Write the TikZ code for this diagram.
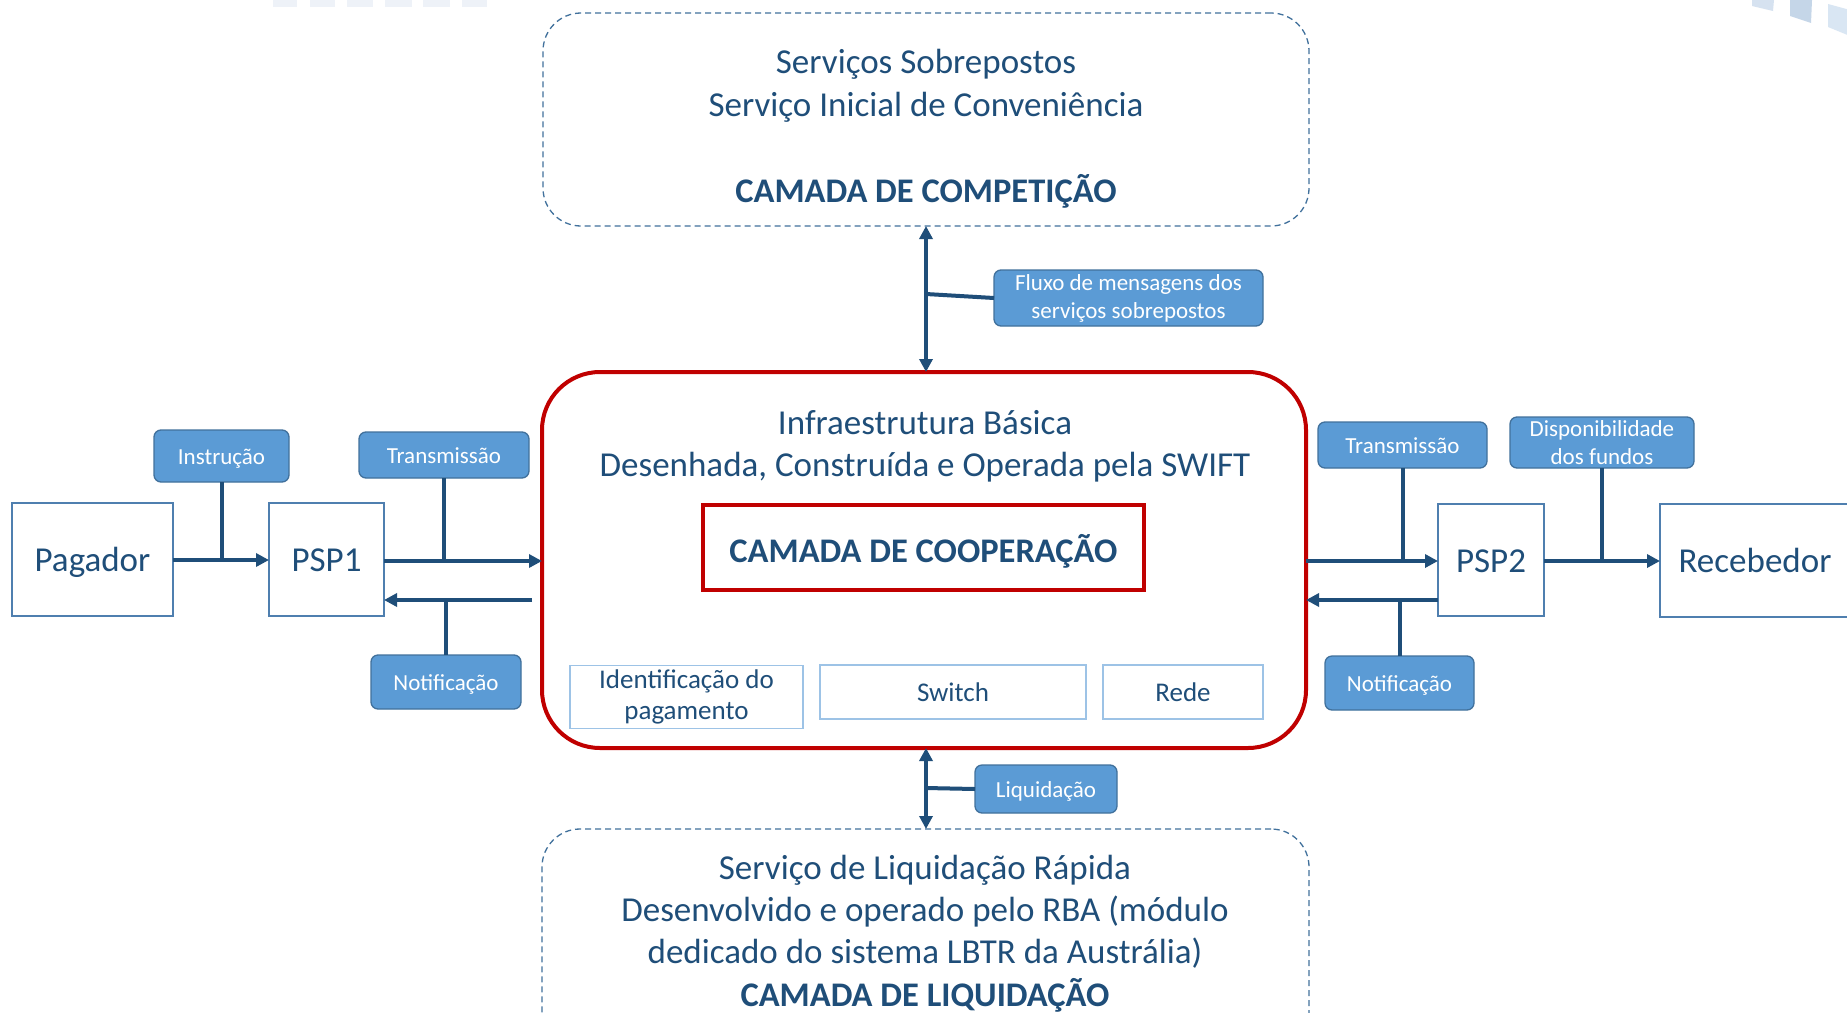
\documentclass[tikz,border=0pt]{standalone}
\usepackage{fontspec}
\setmainfont{Carlito}
\usetikzlibrary{arrows.meta}
\definecolor{navy}{HTML}{1F4E79}
\definecolor{lblfill}{HTML}{5B9BD5}
\definecolor{lblline}{HTML}{41719C}
\definecolor{redc}{HTML}{C00000}
\definecolor{lightb}{HTML}{9DC3E6}
\definecolor{boxline}{HTML}{4F7FAF}
\definecolor{decoA}{HTML}{EEF2F8}
\definecolor{decoB}{HTML}{D6E2F0}
\definecolor{decoC}{HTML}{C5D6E8}
\definecolor{decoD}{HTML}{D9E6F3}
\tikzset{
  every node/.style={inner sep=0pt, outer sep=0pt, text=navy},
  bigtxt/.style={font=\fontsize{35}{42}\selectfont, text height=24pt, text depth=7pt, yshift=-3.5pt},
  boldtxt/.style={font=\fontsize{34.5}{42}\selectfont\bfseries, text height=24pt, text depth=7pt, yshift=-3.5pt},
  layerbox/.style={draw=lblline, line width=1.3pt, dash pattern=on 6pt off 4pt, rounded corners=38pt},
  redbox/.style={draw=redc, line width=4pt, rounded corners=58pt},
  coopbox/.style={draw=redc, line width=4pt, font=\fontsize{34.5}{40}\selectfont\bfseries, text height=30pt, text depth=1pt},
  compbox/.style={draw=lightb, line width=1.5pt, font=\fontsize{27}{31}\selectfont, align=center},
  actor/.style={draw=boxline, line width=1.3pt, fill=white, font=\fontsize{35}{40}\selectfont, text height=26pt, text depth=2pt},
  lbl/.style={draw=lblline, line width=1.3pt, fill=lblfill, rounded corners=7pt, text=white, font=\fontsize{23}{28}\selectfont},
  lblone/.style={lbl, text height=17pt, text depth=1pt},
  lbltwo/.style={lbl, align=center},
  flow/.style={draw=navy, line width=4pt},
  arr/.style={flow, -{Triangle[length=13pt,width=13pt]}},
  dblarr/.style={flow, {Triangle[length=13pt,width=13pt]}-{Triangle[length=13pt,width=13pt]}},
}
\begin{document}
\begin{tikzpicture}[x=1pt,y=-1pt]
\useasboundingbox (0,0) rectangle (1847,1012);
\fill[white] (0,0) rectangle (1847,1012);
% faint background decoration
\begin{scope}
\clip (0,0) rectangle (1847,1012);
\foreach \a/\b in {273/297,310/335,347/373,385/412,423/450,462/487}{
  \fill[decoA] (\a,0) rectangle (\b,7);
}
\fill[decoB] (1752,0) -- (1774,0) -- (1773,11) -- (1752,6) -- cycle;
\fill[decoC] (1790,0) -- (1812,0) -- (1811,23) -- (1790,16) -- cycle;
\fill[decoD] (1828,4) -- (1850,10) -- (1850,36) -- (1828,27) -- cycle;
\end{scope}

% layers
\node[layerbox, minimum width=766pt, minimum height=213pt] (top) at (926,119.5) {};
\node[bigtxt] (t1) at (926,61) {Serviços Sobrepostos};
\node[bigtxt] (t2) at (926,104) {Serviço Inicial de Conveniência};
\node[boldtxt] (t3) at (926,190) {CAMADA DE COMPETIÇÃO};

\node[redbox, minimum width=764pt, minimum height=376pt] (red) at (924,560) {};
\node[bigtxt] (r1) at (925,422) {Infraestrutura Básica};
\node[bigtxt] (r2) at (925,464) {Desenhada, Construída e Operada pela SWIFT};
\node[coopbox, minimum width=441pt, minimum height=85pt] (coop) at (923.5,547.5) {CAMADA DE COOPERAÇÃO};
\node[compbox, minimum width=233pt, minimum height=63pt] (ident) at (686.5,697) {Identificação do\\pagamento};
\node[compbox, minimum width=266pt, minimum height=54pt] (switch) at (953,692) {Switch};
\node[compbox, minimum width=160pt, minimum height=54pt] (rede) at (1183,692) {Rede};

\node[layerbox, minimum width=767pt, minimum height=240pt] (bot) at (925.5,949) {};
\node[bigtxt] (b1) at (925,867) {Serviço de Liquidação Rápida};
\node[bigtxt] (b2) at (925,909) {Desenvolvido e operado pelo RBA (módulo};
\node[bigtxt] (b3) at (925,951) {dedicado do sistema LBTR da Austrália)};
\node[boldtxt] (b4) at (925,994) {CAMADA DE LIQUIDAÇÃO};

% actors
\node[actor, minimum width=161pt, minimum height=113pt] (pag) at (92.5,559.5) {Pagador};
\node[actor, minimum width=115pt, minimum height=113pt] (psp1) at (326.5,559.5) {PSP1};
\node[actor, minimum width=106pt, minimum height=112pt] (psp2) at (1491,560) {PSP2};
\node[actor, minimum width=190pt, minimum height=113pt] (rec) at (1755,560.5) {Recebedor};

% labels
\node[lblone, minimum width=135pt, minimum height=52pt] (instr) at (221.5,456) {Instrução};
\node[lblone, minimum width=170pt, minimum height=46pt] (transL) at (444,455) {Transmissão};
\node[lblone, minimum width=150pt, minimum height=54pt] (notifL) at (446,682) {Notificação};
\node[lblone, minimum width=169pt, minimum height=46pt] (transR) at (1402.5,445) {Transmissão};
\node[lbltwo, minimum width=184pt, minimum height=51pt] (disp) at (1602,442.5) {Disponibilidade\\dos fundos};
\node[lblone, minimum width=149pt, minimum height=54pt] (notifR) at (1399.5,683) {Notificação};
\node[lbltwo, minimum width=269pt, minimum height=56pt] (fluxo) at (1128.5,298) {Fluxo de mensagens dos\\serviços sobrepostos};
\node[lblone, minimum width=142pt, minimum height=48pt] (liq) at (1046,789) {Liquidação};

% helper coordinates
\coordinate (bl) at (532,600);
\coordinate (br) at (red.east |- 0,600);
\coordinate (fj) at (926,294);
\coordinate (lj) at (926,788);

% connectors left
\draw[arr] (pag.east |- 0,560) -- (psp1.west |- 0,560);
\draw[flow] (instr.south) -- (instr.south |- 0,560);
\draw[arr] (psp1.east |- 0,561) -- (red.west |- 0,561);
\draw[flow] (transL.south) -- (transL.south |- 0,561);
\draw[arr] (bl) -- (bl -| psp1.east);
\draw[flow] (notifL.north) -- (notifL.north |- bl);

% connectors right
\draw[arr] (red.east |- 0,561) -- (psp2.west |- 0,561);
\draw[flow] (transR.south) -- (transR.south |- 0,561);
\draw[arr] (psp2.west |- br) -- (br);
\draw[flow] (notifR.north) -- (notifR.north |- br);
\draw[arr] (psp2.east |- 0,561) -- (rec.west |- 0,561);
\draw[flow] (disp.south) -- (disp.south |- 0,561);

% vertical
\draw[dblarr] (top.south -| fj) -- (red.north -| fj);
\draw[flow] (fluxo.west) -- (fj);
\draw[dblarr] (red.south -| lj) -- (bot.north -| lj);
\draw[flow] (liq.west) -- (lj);
\end{tikzpicture}
\end{document}
